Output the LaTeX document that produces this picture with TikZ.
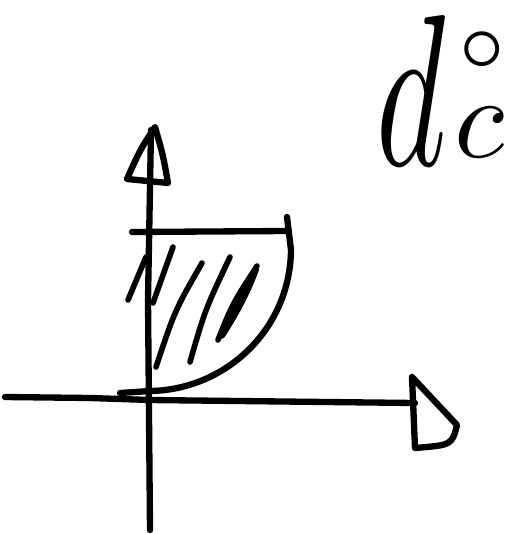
\documentclass[tikz,border=0pt]{standalone}
\usetikzlibrary{positioning}
\begin{document}
\begin{tikzpicture}[
    x=0.02cm, y=-0.02cm,
    pen/.style={line width=3.6pt, line cap=round, line join=round},
    hatch/.style={pen, line width=3.2pt},
]
\useasboundingbox (0,0) rectangle (518,534);

% Axes
\draw[pen] (5,397) -- (90,398) -- (150,400) -- (415,403);
\draw[pen] (151,130) -- (148,300) -- (150,530);

% Arrow heads
\draw[pen] (155,127) .. controls (140,150) .. (127,179) -- (168,183) .. controls (163,155) .. cycle;
\draw[pen] (412,377) -- (457,425) .. controls (452,445) .. (415,448) -- cycle;

% Shaded region
\draw[pen] (132,232) -- (287,231);
\draw[pen] (287,217) -- (291,250) .. controls (290,330) and (225,390) .. (150,391) -- (120,393);

% Hatching
\draw[hatch] (128,300) -- (146,257);
\draw[hatch] (153,303) -- (173,247);
\draw[hatch] (156,367) .. controls (175,310) .. (202,263);
\draw[hatch] (190,362) .. controls (205,310) .. (230,257);
\fill (216,340) .. controls (228,305) and (240,285) .. (256,265)
    -- (259,270) .. controls (250,295) and (236,320) .. (224,338) -- cycle;
\draw[hatch] (218,340) .. controls (232,305) .. (257,266);

% Label
\node[anchor=base west, inner sep=0pt] (lbl) at (376,165)
    {\scalebox{7.6}[12.3]{$d$}\hspace{5pt}\raisebox{4pt}{\scalebox{6.6}{$\rlap{\kern0.3pt\raisebox{7.6pt}{$\scriptstyle\circ$}}c$}}};
\end{tikzpicture}
\end{document}
